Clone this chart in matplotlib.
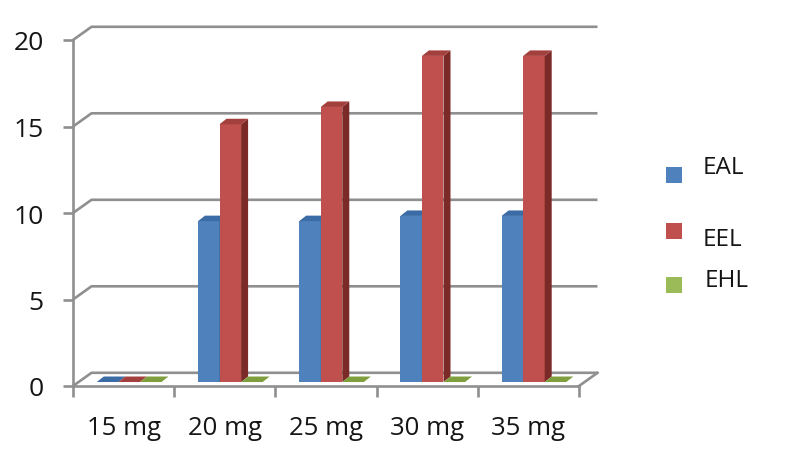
import matplotlib
from matplotlib import pyplot as plt
from matplotlib.patches import Polygon, Rectangle

matplotlib.use("Agg")
plt.rcParams["font.family"] = "Open Sans"

# data
categories = ["15 mg", "20 mg", "25 mg", "30 mg", "35 mg"]
eal = [0, 9.3, 9.3, 9.6, 9.6]
eel = [0, 14.9, 15.9, 18.85, 18.85]
ehl = [0, 0, 0, 0, 0]
y_ticks = [0, 5, 10, 15, 20]

W, H = 787, 460
GREY = "#8f8f8f"
TEXT = "#151515"
X_SIZE = 18.5
Y_SIZE = 19
LEGEND_SIZE = 17.5

# fake 3D: wall offset, bar offset (data units: 1 category = 101 px, 1 y unit = 17.3 px)
WALL_DX, WALL_DY = 18.5 / 101.2, 13.2 / 17.3
BAR_DX, BAR_DY = 7 / 101.2, 5.5 / 17.3
BASE_Y = 0.23
BAR_W = 0.213
FIRST_BAR = 0.235

SERIES = [
    ("EAL", eal, "#4f81bd", "#2f5f94", "#3c6ca6"),
    ("EEL", eel, "#c0504d", "#7b2a28", "#a33f3c"),
    ("EHL", ehl, "#9bbb59", "#6f8f35", "#7f9f3f"),
]

fig = plt.figure(figsize=(W / 100, H / 100), dpi=100)
ax = fig.add_axes([73 / W, (H - 387) / H, 506 / W, 346 / H])
ax.set_xlim(0, len(categories))
ax.set_ylim(0, 20)

# walls and gridlines --------------------------------------------------
for v in y_ticks:
    ax.plot([0, WALL_DX, len(categories) + WALL_DX], [v, v + WALL_DY, v + WALL_DY],
            color=GREY, lw=1.9, clip_on=False, zorder=1, solid_capstyle="butt")
ax.plot([len(categories), len(categories) + WALL_DX], [0, WALL_DY],
        color=GREY, lw=1.9, clip_on=False, zorder=1)

# bars -----------------------------------------------------------------
for s, (name, vals, front, side, top) in enumerate(SERIES):
    xs = [i + FIRST_BAR + s * BAR_W for i in range(len(categories))]
    z = 3 + s
    ax.bar(xs, vals, BAR_W, bottom=BASE_Y, align="edge", color=front, zorder=z, clip_on=False)
    for x, v in zip(xs, vals):
        y1 = BASE_Y + v
        ax.add_patch(Polygon([(x + BAR_W, BASE_Y), (x + BAR_W + BAR_DX, BASE_Y + BAR_DY),
                              (x + BAR_W + BAR_DX, y1 + BAR_DY), (x + BAR_W, y1)],
                             closed=True, color=side, lw=0, zorder=z, clip_on=False))
        ax.add_patch(Polygon([(x, y1), (x + BAR_DX, y1 + BAR_DY),
                              (x + BAR_W + BAR_DX, y1 + BAR_DY), (x + BAR_W, y1)],
                             closed=True, color=top, lw=0, zorder=z, clip_on=False))

# axes -----------------------------------------------------------------
for sp in ["top", "right"]:
    ax.spines[sp].set_visible(False)
for sp in ["left", "bottom"]:
    ax.spines[sp].set_color(GREY)
    ax.spines[sp].set_linewidth(1.9)
    ax.spines[sp].set_zorder(2)

ax.set_yticks(y_ticks)
ax.set_yticklabels([str(v) for v in y_ticks], fontsize=Y_SIZE, color=TEXT)
ax.tick_params(axis="y", length=7, width=1.9, color=GREY, pad=14)

ax.set_xticks(range(len(categories) + 1))
ax.set_xticklabels([])
ax.tick_params(axis="x", which="major", length=8, width=1.9, color=GREY)
ax.set_xticks([i + 0.5 for i in range(len(categories))], minor=True)
ax.set_xticklabels(categories, minor=True, fontsize=X_SIZE, color=TEXT)
ax.tick_params(axis="x", which="minor", length=0, pad=21)

# hand-placed legend, the entries are unevenly spaced in the original --
legend_boxes = [175.5, 231.5, 286]
legend_text = [(723, 168), (722, 240), (727, 281)]
for (name, vals, front, side, top), by, (tx, ty) in zip(SERIES, legend_boxes, legend_text):
    fig.add_artist(Rectangle((666 / W, 1 - (by + 8) / H), 16 / W, 16 / H,
                             transform=fig.transFigure, color=front, lw=0))
    fig.text(tx / W, 1 - ty / H, name, ha="center", va="center",
             fontsize=LEGEND_SIZE, color=TEXT)

plt.savefig("out.png", dpi=100)
